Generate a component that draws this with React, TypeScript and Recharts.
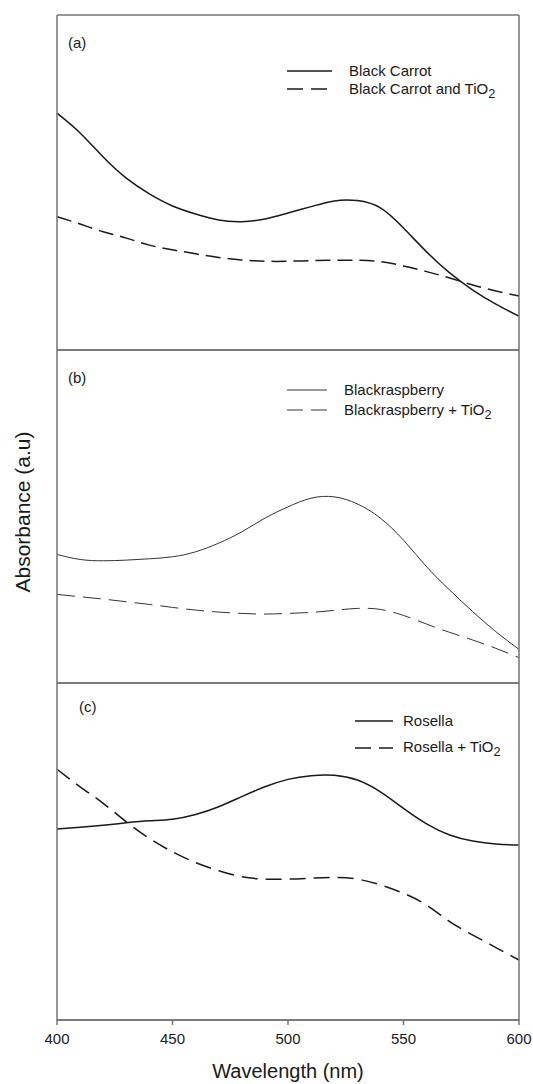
import React from "react";
import { LineChart, Line, XAxis, YAxis, Legend } from "recharts";

// wavelength grid (nm), every 10 nm
const wavelength = [400, 410, 420, 430, 440, 450, 460, 470, 480, 490, 500, 510, 520, 530, 540, 550, 560, 570, 580, 590, 600];

// absorbance (a.u.)
const blackCarrot = [0.707, 0.648, 0.576, 0.513, 0.466, 0.43, 0.406, 0.388, 0.383, 0.391, 0.409, 0.428, 0.445, 0.446, 0.424, 0.364, 0.293, 0.23, 0.179, 0.137, 0.101];
const blackCarrotTiO2 = [0.398, 0.376, 0.353, 0.334, 0.313, 0.299, 0.287, 0.276, 0.269, 0.265, 0.265, 0.267, 0.268, 0.268, 0.264, 0.251, 0.234, 0.215, 0.194, 0.176, 0.161];
const blackraspberry = [0.386, 0.371, 0.367, 0.369, 0.373, 0.379, 0.394, 0.42, 0.454, 0.495, 0.529, 0.555, 0.559, 0.538, 0.495, 0.429, 0.349, 0.279, 0.214, 0.154, 0.101];
const blackraspberryTiO2 = [0.266, 0.259, 0.252, 0.244, 0.236, 0.227, 0.219, 0.213, 0.209, 0.207, 0.209, 0.212, 0.218, 0.224, 0.221, 0.203, 0.177, 0.152, 0.129, 0.104, 0.076];
const rosella = [0.567, 0.572, 0.578, 0.585, 0.591, 0.596, 0.61, 0.633, 0.663, 0.692, 0.714, 0.725, 0.726, 0.712, 0.677, 0.628, 0.582, 0.549, 0.531, 0.522, 0.519];
const rosellaTiO2 = [0.744, 0.692, 0.643, 0.588, 0.539, 0.499, 0.467, 0.443, 0.425, 0.418, 0.418, 0.421, 0.423, 0.418, 0.401, 0.376, 0.341, 0.292, 0.252, 0.215, 0.178];

const xTicks = [400, 450, 500, 550, 600];
const innerTicks = [450, 500, 550];

const FONT = '"Liberation Sans", Arial, Helvetica, sans-serif';
const FRAME = "#737373";
const INK = "#1a1a1a";

type Series = { key: string; name: string; values: number[]; color: string; width: number; dash?: string };

type PanelCfg = {
  label: string;
  labelLeft: number;
  labelTop: number;
  top: number;
  height: number;
  mt: number;
  mb: number;
  last?: boolean;
  series: Series[];
  legend: { left: number; top: number; row: number; sample: number; gap: number };
};

const panels: PanelCfg[] = [
  {
    label: "(a)", labelLeft: 68, labelTop: 34,
    top: 0, height: 352, mt: 15, mb: 2,
    series: [
      { key: "bc", name: "Black Carrot", values: blackCarrot, color: INK, width: 1.5 },
      { key: "bct", name: "Black Carrot and TiO2", values: blackCarrotTiO2, color: INK, width: 1.5, dash: "15 7" },
    ],
    legend: { left: 287, top: 62, row: 18, sample: 45, gap: 17 },
  },
  {
    label: "(b)", labelLeft: 68, labelTop: 369,
    top: 340, height: 353, mt: 10, mb: 10,
    series: [
      { key: "br", name: "Blackraspberry", values: blackraspberry, color: "#333", width: 1 },
      { key: "brt", name: "Blackraspberry + TiO2", values: blackraspberryTiO2, color: "#333", width: 1, dash: "18 8" },
    ],
    legend: { left: 287, top: 40, row: 20, sample: 40, gap: 17 },
  },
  {
    label: "(c)", labelLeft: 79, labelTop: 698,
    top: 673, height: 411, mt: 10, mb: 0, last: true,
    series: [
      { key: "ro", name: "Rosella", values: rosella, color: INK, width: 1.5 },
      { key: "rot", name: "Rosella + TiO2", values: rosellaTiO2, color: INK, width: 1.5, dash: "16 8" },
    ],
    legend: { left: 355, top: 34, row: 27, sample: 38, gap: 10 },
  },
];

function withSub(name: string) {
  if (!name.endsWith("TiO2")) return name;
  return (
    <>
      {name.slice(0, -1)}
      <span style={{ fontSize: "0.85em", position: "relative", top: 4 }}>2</span>
    </>
  );
}

function PanelLegend({ payload, cfg }: { payload?: any[]; cfg: PanelCfg }) {
  const lg = cfg.legend;
  return (
    <div style={{ fontFamily: FONT, fontSize: 15, color: INK }}>
      {(payload || []).map((p: any) => {
        const s = cfg.series.find((x) => x.key === p.dataKey) || cfg.series[0];
        return (
          <div key={s.key} style={{ display: "flex", alignItems: "center", height: lg.row, whiteSpace: "nowrap" }}>
            <svg width={lg.sample} height={4} style={{ display: "block" }}>
              <line x1={0} y1={2} x2={lg.sample} y2={2} stroke={s.color} strokeWidth={s.width} strokeDasharray={s.dash ? "16 8" : undefined} />
            </svg>
            <span style={{ marginLeft: lg.gap, lineHeight: "18px" }}>{withSub(s.name)}</span>
          </div>
        );
      })}
    </div>
  );
}

function Panel({ cfg }: { cfg: PanelCfg }) {
  const data = wavelength.map((w, i) => {
    const row: any = { w };
    cfg.series.forEach((s) => (row[s.key] = s.values[i]));
    return row;
  });
  return (
    <div style={{ position: "absolute", left: 0, top: cfg.top }}>
      <LineChart width={533} height={cfg.height} data={data} margin={{ top: cfg.mt, right: 14, bottom: cfg.mb, left: 57 }}>
        {cfg.last ? (
          <XAxis
            xAxisId="b" dataKey="w" type="number" domain={[400, 600]} ticks={xTicks} interval={0}
            height={64} tickSize={5} tickMargin={8}
            stroke={FRAME} strokeWidth={1.5}
            tick={{ fontSize: 15, fill: INK, fontFamily: FONT }}
            label={{ value: "Wavelength (nm)", position: "insideBottom", offset: 6, fontSize: 20, fill: INK, fontFamily: FONT }}
          />
        ) : (
          <XAxis
            xAxisId="b" dataKey="w" type="number" domain={[400, 600]} ticks={innerTicks} interval={0}
            mirror height={1} tick={false} tickSize={5} stroke={FRAME} strokeWidth={1.5}
          />
        )}
        {cfg.last && (
          <XAxis xAxisId="bi" dataKey="w" type="number" domain={[400, 600]} ticks={xTicks} interval={0}
            mirror height={1} tick={false} tickSize={5} stroke={FRAME} strokeWidth={1.5} />
        )}
        <XAxis xAxisId="t" orientation="top" dataKey="w" type="number" domain={[400, 600]}
          ticks={cfg.last ? innerTicks : []} interval={0} mirror height={1} tick={false}
          tickSize={5} tickLine={!!cfg.last} stroke={FRAME} strokeWidth={1.5} />
        <YAxis yAxisId="l" domain={[0, 1]} mirror width={1} tick={false} tickLine={false} stroke={FRAME} strokeWidth={1.5} />
        <YAxis yAxisId="r" orientation="right" domain={[0, 1]} mirror width={1} tick={false} tickLine={false} stroke={FRAME} strokeWidth={1.5} />
        {cfg.series.map((s) => (
          <Line
            key={s.key} xAxisId="b" yAxisId="l" type="natural" dataKey={s.key} name={s.name}
            stroke={s.color} strokeWidth={s.width} strokeDasharray={s.dash} dot={false} activeDot={false}
            isAnimationActive={false}
          />
        ))}
        <Legend
          layout="vertical" align="center" verticalAlign="middle"
          wrapperStyle={{ left: cfg.legend.left, top: cfg.legend.top, width: "auto" }}
          content={(props: any) => <PanelLegend payload={props.payload} cfg={cfg} />}
        />
      </LineChart>
      <div style={{ position: "absolute", left: cfg.labelLeft, top: cfg.labelTop - cfg.top, fontFamily: FONT, fontSize: 15, lineHeight: "18px", color: INK }}>
        {cfg.label}
      </div>
    </div>
  );
}

export default function App() {
  return (
    <div style={{ position: "absolute", left: 0, top: 0, width: 533, height: 1084, background: "#fff", fontFamily: FONT }}>
      {panels.map((p) => (
        <Panel key={p.label} cfg={p} />
      ))}
      <div
        style={{
          position: "absolute", left: 23, top: 512, fontSize: 21, color: INK, whiteSpace: "nowrap",
          transform: "translate(-50%, -50%) rotate(-90deg)",
        }}
      >
        Absorbance (a.u)
      </div>
    </div>
  );
}
